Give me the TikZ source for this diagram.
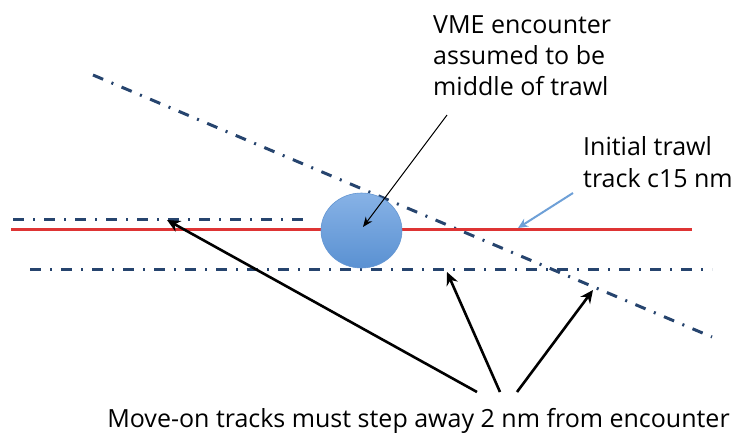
\documentclass[tikz,border=0pt]{standalone}
\usepackage{fontspec}
\setmainfont{Open Sans}
\usetikzlibrary{arrows.meta,shapes.geometric}
\definecolor{dashblue}{RGB}{38,68,110}
\definecolor{trawlred}{RGB}{222,52,52}
\definecolor{lightarrow}{RGB}{110,160,215}
\definecolor{circtop}{RGB}{135,178,230}
\definecolor{circbot}{RGB}{90,145,210}
\definecolor{circedge}{RGB}{100,150,210}
\begin{document}
\begin{tikzpicture}[x=1pt,y=-1pt,
  dashdot/.style={draw=dashblue,line width=3pt,dash pattern=on 11pt off 9pt on 2pt off 9pt},
  blkarrow/.style={draw=black,line width=2.6pt,-{Stealth[length=13pt,width=12pt]}},
  lbl/.style={font=\fontsize{25}{31}\selectfont,align=left,inner sep=0pt,anchor=base west}]
\useasboundingbox (0,0) rectangle (732,432);
% lines
\coordinate (ua) at (13,219); \coordinate (ub) at (309,219);
\coordinate (la) at (30,269); \coordinate (lb) at (712,269);
\coordinate (da) at (93,75); \coordinate (db) at (712,337);
\coordinate (ra) at (11,229); \coordinate (rb) at (692,229);
\draw[dashdot] (ua) -- (ub);
\draw[dashdot] (la) -- (lb);
\draw[dashdot] (da) -- (db);
\draw[trawlred,line width=3pt] (ra) -- (rb);
% encounter circle
\node[ellipse,minimum width=81pt,minimum height=75pt,inner sep=0pt,draw=circedge,line width=0.6pt,top color=circtop,bottom color=circbot] (vme) at (361.5,230.5) {};
% labels
\node[lbl] (t1a) at (433,33) {VME encounter};
\node[lbl] (t1b) at (433,64) {assumed to be};
\node[lbl] (t1c) at (433,95) {middle of trawl};
\node[lbl] (t2a) at (583,155) {Initial trawl};
\node[lbl] (t2b) at (583,187) {track c15 nm};
\node[lbl,anchor=base] (t3) at (418.5,427) {Move-on tracks must step away 2 nm from encounter};
% label arrows
\coordinate (s1) at (447,115); \coordinate (e1) at (363,227);
\draw[line width=1pt,-{Stealth[length=10pt,width=8pt]}] (s1) -- (e1);
\coordinate (s2) at (573,193); \coordinate (e2) at (518,228);
\draw[lightarrow,line width=2pt,-{Stealth[length=10pt,width=9pt]}] (s2) -- (e2);
% move-on arrows
\coordinate (m1) at (477,392); \coordinate (m2) at (500,392); \coordinate (m3) at (517,392);
\coordinate (p1) at (167,220); \coordinate (p2) at (447,272); \coordinate (p3) at (593,290);
\draw[blkarrow] (m1) -- (p1);
\draw[blkarrow] (m2) -- (p2);
\draw[blkarrow] (m3) -- (p3);
\end{tikzpicture}
\end{document}
